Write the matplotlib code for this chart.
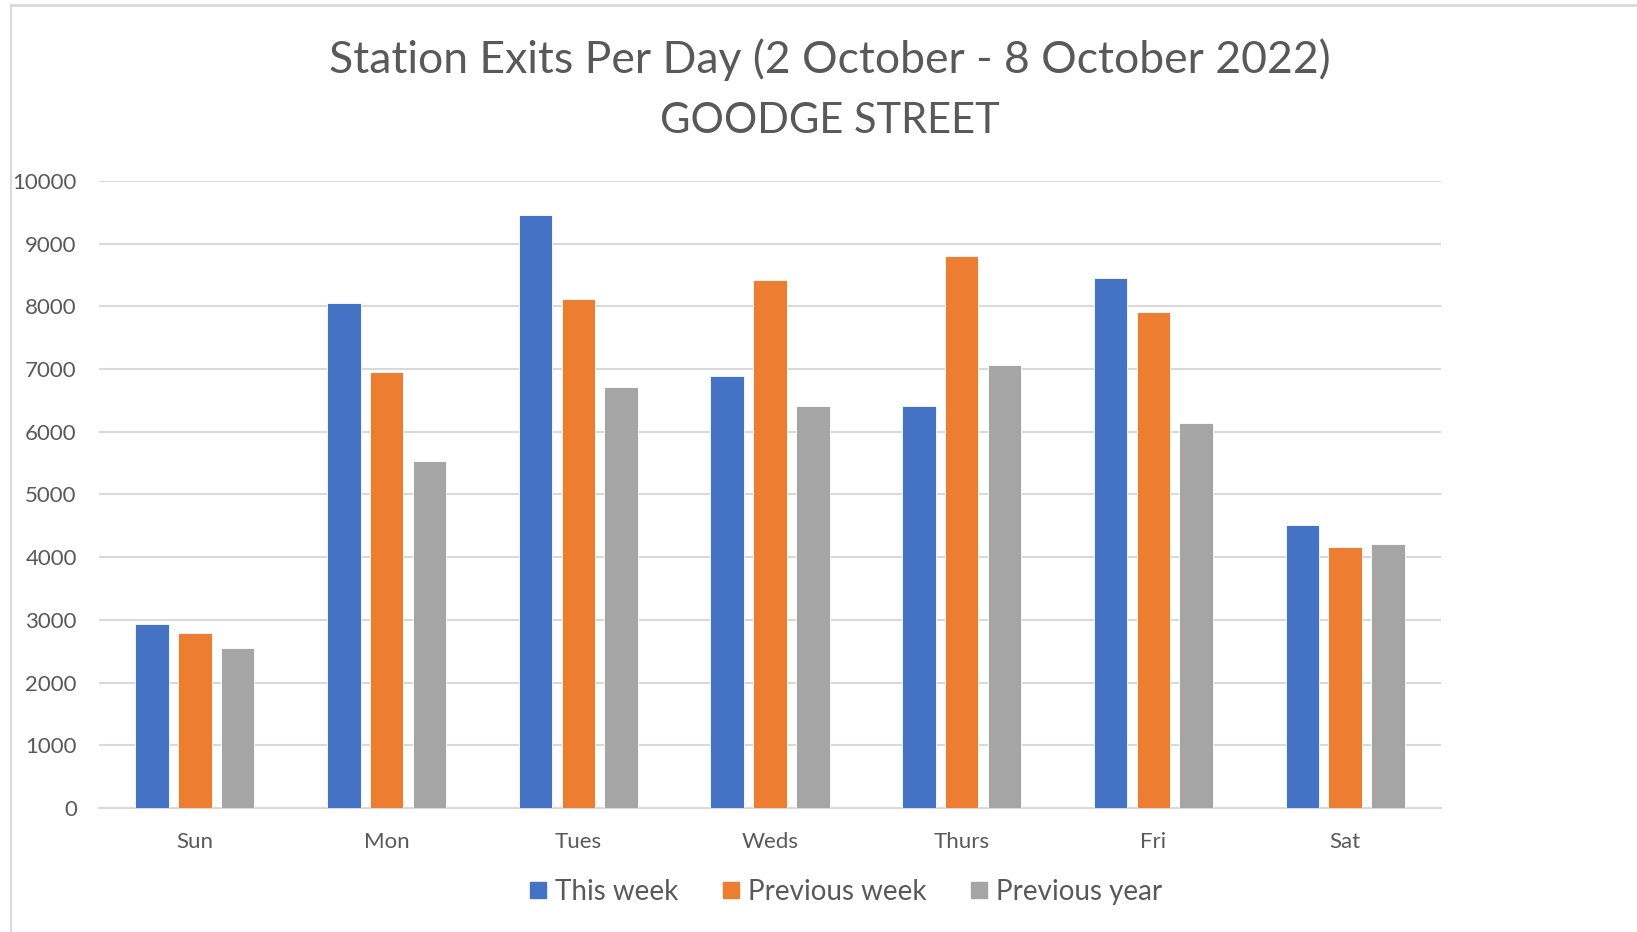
import numpy as np
import matplotlib
matplotlib.use("Agg")
import matplotlib.pyplot as plt
from matplotlib.lines import Line2D

# data
days = ["Sun", "Mon", "Tues", "Weds", "Thurs", "Fri", "Sat"]
this_week = [2940, 8050, 9460, 6890, 6410, 8455, 4520]
prev_week = [2790, 6950, 8120, 8425, 8810, 7915, 4165]
prev_year = [2545, 5540, 6710, 6410, 7070, 6140, 4215]
series_names = ["This week", "Previous week", "Previous year"]
yticks = [0, 1000, 2000, 3000, 4000, 5000, 6000, 7000, 8000, 9000, 10000]

colors = ["#4472C4", "#ED7D31", "#A5A5A5"]
txt = "#595959"

plt.rcParams['font.family'] = ['Lato', 'DejaVu Sans']

fig = plt.figure(figsize=(16.37, 9.32), dpi=100)
ax = fig.add_axes([99/1637, 1 - 808/932, (1441 - 99)/1637, (808 - 181)/932])

x = np.arange(len(days))
w = 0.175
step = 0.223
for i, vals in enumerate([this_week, prev_week, prev_year]):
    ax.bar(x + (i - 1)*step, vals, width=w, color=colors[i],
           edgecolor="white", linewidth=0.6, label=series_names[i], zorder=3)

ax.set_xlim(-0.5, 6.5)
ax.set_ylim(0, 10000)
ax.set_yticks(yticks)
ax.set_yticklabels([str(v) for v in yticks])
ax.set_xticks(x)
ax.set_xticklabels(days)
ax.yaxis.grid(True, color="#D9D9D9", linewidth=1.5, zorder=0)
for s in ["top", "right", "left"]:
    ax.spines[s].set_visible(False)
ax.spines["bottom"].set_color("#D9D9D9")
ax.spines["bottom"].set_linewidth(1.5)
ax.tick_params(axis="both", length=0, colors=txt, labelsize=16)
ax.tick_params(axis="y", pad=16)
ax.tick_params(axis="x", pad=17)

# title
fig.text(830/1637, 1 - 60/932, "Station Exits Per Day (2 October - 8 October 2022)",
         ha="center", va="center", fontsize=32, color=txt)
fig.text(830/1637, 1 - 121/932, "GOODGE STREET",
         ha="center", va="center", fontsize=30, color=txt)

# legend
handles = [Line2D([0], [0], marker="s", linestyle="none", markersize=11,
                  markerfacecolor=c, markeredgecolor=c) for c in colors]
fig.legend(handles, series_names, loc="center", bbox_to_anchor=(846/1637, 1 - 892/932),
           ncol=3, frameon=False, fontsize=20, labelcolor=txt,
           handlelength=0.6, handletextpad=0.3, columnspacing=1.6)

# chart area border
fig.add_artist(Line2D([11/1637, 1], [1 - 5/932, 1 - 5/932], transform=fig.transFigure,
                      color="#D9D9D9", linewidth=2))
fig.add_artist(Line2D([11/1637, 11/1637], [0, 1 - 5/932], transform=fig.transFigure,
                      color="#D9D9D9", linewidth=1.5))

fig.savefig("out.png", dpi=100)
